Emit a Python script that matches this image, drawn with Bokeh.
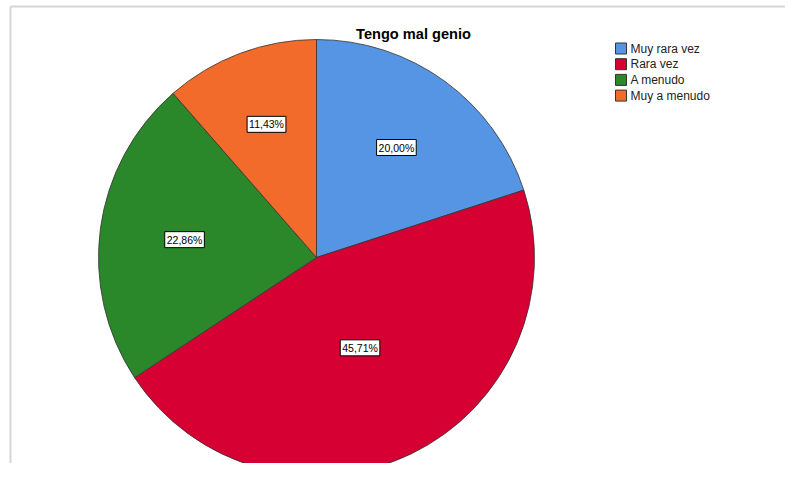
import numpy as np
from bokeh.plotting import figure
from bokeh.models import Range1d, ColumnDataSource, Label
from bokeh.embed import file_html
from bokeh.resources import INLINE
from bokeh.core.properties import value

# ---- data ----
title_text = "Tengo mal genio"
categories = ["Muy rara vez", "Rara vez", "A menudo", "Muy a menudo"]
percentages = [20.00, 45.71, 22.86, 11.43]
label_texts = ["20,00%", "45,71%", "22,86%", "11,43%"]
colors = ["#5595e3", "#d60032", "#2a882b", "#f36b2b"]

# ---- layout (screen px -> data units, 1:1) ----
W, H = 785, 463
def X(px):
    return px
def Y(py):
    return H - py

FONT = "Liberation Sans"

p = figure(width=W, height=H, output_backend="svg", toolbar_location=None,
           x_range=Range1d(0, W), y_range=Range1d(0, H), min_border=0)
p.axis.visible = False
p.xgrid.grid_line_color = None
p.ygrid.grid_line_color = None
p.outline_line_color = None
p.background_fill_color = "white"
p.border_fill_color = "white"

# frame lines
p.segment(x0=[X(10), X(10)], y0=[Y(6), Y(6)], x1=[X(801), X(10)], y1=[Y(6), Y(480)],
          line_color="#d6d6d6", line_width=2)

# ---- pie ----
cx, cy, R = X(316), Y(257), 218
fr = np.array(percentages) / 100.0
cum = np.cumsum(fr)
start = np.pi / 2 - 2 * np.pi * (cum - fr)
end = np.pi / 2 - 2 * np.pi * cum

src = ColumnDataSource(dict(start=start, end=end, color=colors, cat=categories))
p.wedge(x=cx, y=cy, radius=R, start_angle="start", end_angle="end", direction="clock",
        fill_color="color", line_color="#333333", line_width=0.8, source=src)

mid = (start + end) / 2
half = np.pi * fr
rc = 2 * R * np.sin(half) / (3 * half)
lx = cx + rc * np.cos(mid)
ly = cy + rc * np.sin(mid)
lsrc = ColumnDataSource(dict(x=lx, y=ly, t=label_texts))
p.text(x="x", y="y", text="t", source=lsrc, text_align="center",
       text_baseline="middle", text_font=value(FONT), text_font_size="10.5px",
       text_color="black", background_fill_color="white",
       border_line_color="black", border_line_width=1, padding=2)

# ---- title ----
p.add_layout(Label(x=X(413), y=Y(33), text=title_text, text_align="center",
                   text_baseline="alphabetic", text_font=FONT, text_font_size="14.6px",
                   text_font_style="bold", text_color="black"))

# ---- legend ----
idx = np.arange(len(categories))
ly_leg = np.array([Y(48 + i * 15.7) for i in idx])
leg = ColumnDataSource(dict(x=[X(620.5)] * len(categories), y=ly_leg, color=colors,
                            tx=[X(630)] * len(categories), cat=categories))
p.rect(x="x", y="y", width=11, height=11, fill_color="color", line_color="#333333",
       line_width=1, source=leg)
p.text(x="tx", y="y", text="cat", text_baseline="middle", text_align="left",
       text_font=value(FONT), text_font_size="12px", text_color="#222222", source=leg)

open("out.html", "w").write(file_html(p, INLINE))
